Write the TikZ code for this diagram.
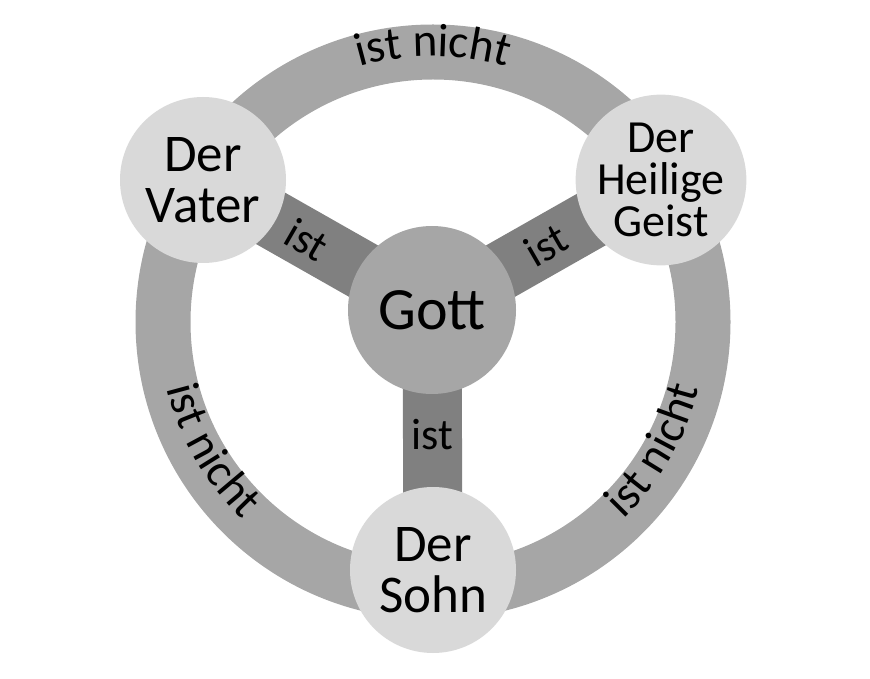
\documentclass[tikz,border=0pt]{standalone}
\usepackage{fontspec}
\setmainfont{Carlito}
\usetikzlibrary{decorations.text}
\definecolor{ringc}{HTML}{A6A6A6}
\definecolor{spokec}{HTML}{808080}
\definecolor{outerc}{HTML}{D9D9D9}
\definecolor{godc}{HTML}{A6A6A6}
\begin{document}
\begin{tikzpicture}[x=1pt,y=1pt,
  person/.style={circle,fill=outerc,minimum size=166pt,inner sep=0pt,align=center,font=\fontsize{53}{51}\selectfont},
  god/.style={circle,fill=godc,minimum size=168pt,inner sep=0pt,font=\fontsize{60}{60}\selectfont},
  spoke/.style={line width=59pt,draw=spokec},
  ringtext/.style={decorate,decoration={text along path,text align=center,raise=-0.42em,
     text={|\fontsize{47}{47}\selectfont|ist nicht}}},
  islabel/.style={font=\fontsize{44}{44}\selectfont}]
\useasboundingbox (0,0) rectangle (870,678);
\coordinate (rc) at (433,356);
\draw[ringc,line width=55pt] (rc) circle[radius=270];
\coordinate (pv) at (203,498);
\coordinate (pg) at (661,498);
\coordinate (ps) at (433,108);
\coordinate (pgott) at (432,368);
\draw[spoke] (pgott) -- (pv);
\draw[spoke] (pgott) -- (pg);
\draw[spoke] (pgott) -- (ps);
\node[person] (vater) at (pv) {Der\\Vater};
\node[person,font=\fontsize{46}{42}\selectfont] (geist) at (pg) {Der\\Heilige\\Geist};
\node[person] (sohn) at (ps) {Der\\Sohn};
\node[god] (gott) at (pgott) {Gott};
\path[ringtext] (rc) ++(113:270) arc[start angle=113,end angle=67,radius=270];
\path[ringtext] (rc) ++(185:270) arc[start angle=185,end angle=235,radius=270];
\path[ringtext] (rc) ++(305:270) arc[start angle=305,end angle=355,radius=270];
\node[islabel,rotate=-30] (l1) at (307,438) {ist};
\node[islabel,rotate=30] (l2) at (546,433) {ist};
\node[islabel] (l3) at (432,243) {ist};
\end{tikzpicture}
\end{document}
